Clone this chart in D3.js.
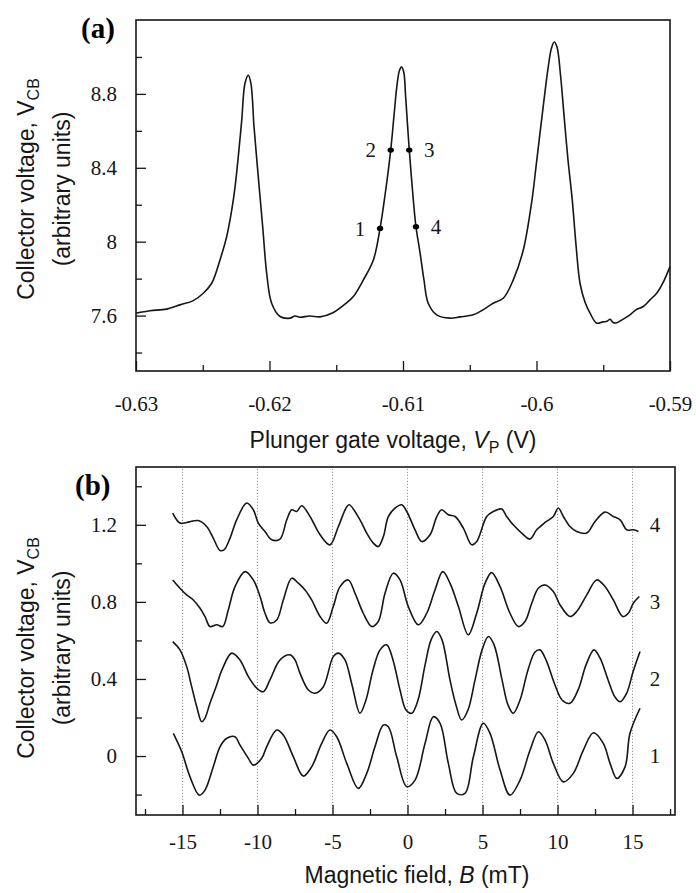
<!DOCTYPE html>
<html>
<head>
<meta charset="utf-8">
<script src="https://cdn.jsdelivr.net/npm/d3@7"></script>
<style>
  body { margin: 0; background: #fff; }
  svg { display: block; }
</style>
</head>
<body>
<svg id="fig" width="696" height="893"></svg>
<script>
// ---------- Panel (a): collector voltage vs plunger gate voltage ----------
const gateVoltage = [-0.63000,-0.62895,-0.62770,-0.62670,-0.62571,-0.62496,-0.62433,-0.62371,-0.62321,-0.62283,
  -0.62258,-0.62234,-0.62208,-0.62184,-0.62159,-0.62139,-0.62116,-0.62084,-0.62051,-0.62021,
  -0.61984,-0.61921,-0.61847,-0.61809,-0.61772,-0.61697,-0.61622,-0.61525,-0.61422,-0.61372,
  -0.61297,-0.61222,-0.61172,-0.61135,-0.61092,-0.61067,-0.61045,-0.61026,-0.61010,-0.60994,
  -0.60981,-0.60967,-0.60953,-0.60929,-0.60903,-0.60873,-0.60843,-0.60811,-0.60748,-0.60648,
  -0.60573,-0.60474,-0.60401,-0.60325,-0.60249,-0.60174,-0.60099,-0.60034,-0.60004,-0.59974,
  -0.59944,-0.59912,-0.59888,-0.59867,-0.59846,-0.59820,-0.59794,-0.59764,-0.59732,-0.59704,
  -0.59674,-0.59637,-0.59599,-0.59549,-0.59502,-0.59472,-0.59449,-0.59427,-0.59399,-0.59360,
  -0.59300,-0.59255,-0.59200,-0.59150,-0.59100,-0.59053,-0.59000];
const collectorA = [7.613,7.626,7.635,7.658,7.681,7.721,7.775,7.901,8.027,8.171,
  8.297,8.459,8.658,8.856,8.901,8.856,8.622,8.351,8.081,7.829,
  7.667,7.595,7.586,7.598,7.591,7.598,7.593,7.615,7.669,7.703,
  7.793,7.901,8.072,8.250,8.496,8.685,8.847,8.928,8.946,8.917,
  8.793,8.642,8.496,8.280,8.081,7.944,7.793,7.667,7.604,7.586,
  7.593,7.604,7.631,7.667,7.694,7.793,7.955,8.225,8.404,8.586,
  8.766,8.946,9.047,9.081,9.052,8.901,8.685,8.442,8.225,7.982,
  7.775,7.674,7.613,7.559,7.566,7.569,7.580,7.563,7.561,7.577,
  7.604,7.631,7.649,7.685,7.721,7.777,7.865];

// operating points 1-4 on the middle peak
const pointLabels = ["1", "2", "3", "4"];
const pointGate = [-0.61172, -0.61092, -0.60953, -0.60903];
const pointCollector = [8.072, 8.496, 8.496, 8.081];

const gateTicks = [-0.63, -0.62, -0.61, -0.60, -0.59];
const gateTickLabels = ["-0.63", "-0.62", "-0.61", "-0.6", "-0.59"];
const gateMinorTicks = [-0.625, -0.615, -0.605, -0.595];
const collectorTicksA = [7.6, 8.0, 8.4, 8.8];
const collectorTickLabelsA = ["7.6", "8", "8.4", "8.8"];
const collectorMinorA = [7.4, 7.8, 8.2, 8.6, 9.0];

// ---------- Panel (b): magnetoresistance traces at points 1-4 ----------
const traceNames = ["1", "2", "3", "4"];
const traceOffsets = [0, 0.4, 0.8, 1.2];

const field1 = [-15.61,-15.05,-14.50,-13.88,-13.50,-12.95,-12.50,-12.05,-11.50,-11.17,-10.61,-10.28,-9.72,-9.39,
  -8.72,-8.28,-7.61,-6.95,-6.39,-5.72,-5.17,-4.72,-4.05,-3.28,-2.72,-2.17,-1.61,-1.28,-0.72,-0.05,
  0.50,1.17,1.72,2.17,2.72,3.28,3.83,4.39,5.05,5.50,6.17,6.83,7.50,8.17,8.72,9.17,9.72,10.39,11.05,
  11.72,12.39,13.05,13.50,13.95,14.50,14.83,15.50];
const trace1 = [0.118,0.022,-0.108,-0.203,-0.177,-0.056,0.048,0.092,0.100,0.057,-0.012,-0.047,-0.012,0.048,
  0.135,0.109,-0.004,-0.104,-0.056,0.066,0.135,0.100,-0.038,-0.168,-0.090,0.048,0.161,0.152,-0.004,-0.159,
  -0.125,0.066,0.204,0.170,-0.038,-0.194,-0.194,-0.004,0.170,0.118,-0.073,-0.203,-0.125,0.031,0.126,0.083,
  -0.038,-0.134,-0.090,0.031,0.121,0.066,-0.038,-0.116,-0.056,0.118,0.248];

const field2 = [-15.65,-15.17,-14.72,-14.39,-14.05,-13.72,-13.50,-13.17,-12.72,-12.37,-11.72,-11.17,-10.61,-10.05,
  -9.61,-9.17,-8.50,-7.83,-7.50,-7.17,-6.61,-6.17,-5.61,-4.95,-4.61,-4.17,-3.70,-3.17,-2.77,-2.30,
  -1.83,-1.39,-0.97,-0.50,-0.10,0.28,0.70,1.17,1.57,1.95,2.30,2.83,3.23,3.61,4.03,4.50,4.97,5.39,5.77,
  6.30,6.70,7.05,7.50,8.03,8.50,8.83,9.23,9.83,10.30,10.83,11.37,11.90,12.43,12.83,13.37,13.83,14.17,
  14.61,15.03,15.50];
const trace2 = [0.594,0.551,0.464,0.360,0.256,0.178,0.197,0.274,0.369,0.447,0.534,0.499,0.412,0.352,
  0.334,0.395,0.499,0.525,0.499,0.430,0.343,0.326,0.360,0.516,0.534,0.499,0.369,0.222,0.291,0.447,
  0.551,0.577,0.499,0.343,0.239,0.222,0.291,0.473,0.603,0.646,0.603,0.395,0.265,0.187,0.239,0.395,
  0.551,0.620,0.577,0.395,0.265,0.222,0.291,0.447,0.540,0.551,0.499,0.369,0.291,0.274,0.343,0.473,
  0.551,0.509,0.395,0.306,0.282,0.327,0.436,0.542];

const field3 = [-15.65,-15.17,-14.72,-14.28,-13.83,-13.50,-13.17,-12.72,-12.32,-11.95,-11.50,-10.83,-10.28,-9.83,
  -9.50,-9.17,-8.72,-8.28,-7.72,-7.28,-6.83,-6.39,-5.83,-5.39,-4.95,-4.50,-3.95,-3.50,-2.95,-2.39,
  -1.95,-1.50,-0.95,-0.50,0.05,0.72,1.28,1.83,2.35,2.83,3.39,4.05,4.61,5.17,5.61,6.17,6.83,7.39,7.83,
  8.28,8.72,9.17,9.72,10.17,10.83,11.28,11.95,12.61,13.17,13.72,14.35,14.72,15.05,15.45];
const trace3 = [0.914,0.871,0.836,0.810,0.767,0.724,0.672,0.681,0.672,0.758,0.879,0.957,0.914,0.828,
  0.741,0.692,0.706,0.810,0.923,0.897,0.862,0.810,0.724,0.689,0.776,0.879,0.914,0.845,0.741,0.672,
  0.698,0.845,0.949,0.914,0.776,0.681,0.741,0.862,0.957,0.897,0.776,0.629,0.741,0.897,0.952,0.879,
  0.741,0.672,0.698,0.793,0.871,0.888,0.854,0.784,0.724,0.750,0.836,0.914,0.879,0.810,0.724,0.741,
  0.793,0.828];

const field4 = [-15.65,-15.17,-14.72,-13.95,-13.39,-12.95,-12.50,-12.23,-11.83,-11.39,-10.72,-10.28,-9.95,-9.50,
  -9.05,-8.50,-8.05,-7.72,-7.39,-7.05,-6.50,-5.83,-5.17,-4.61,-4.05,-3.88,-3.17,-2.72,-2.28,-1.95,
  -1.61,-1.28,-0.83,-0.39,-0.05,0.50,0.95,1.50,1.95,2.28,2.72,3.17,3.72,4.28,4.61,5.28,5.72,6.28,6.61,
  7.05,7.61,8.17,8.61,9.17,9.72,10.05,10.39,10.83,11.28,11.95,12.50,13.17,13.72,14.17,14.61,15.05,15.39];
const trace4 = [1.261,1.209,1.212,1.222,1.191,1.131,1.067,1.070,1.131,1.226,1.313,1.278,1.209,1.165,
  1.122,1.126,1.226,1.278,1.269,1.299,1.243,1.148,1.096,1.191,1.294,1.304,1.226,1.157,1.105,1.087,
  1.139,1.243,1.287,1.304,1.269,1.174,1.113,1.148,1.243,1.278,1.252,1.243,1.183,1.096,1.113,1.243,
  1.269,1.282,1.243,1.200,1.157,1.126,1.174,1.212,1.243,1.287,1.243,1.191,1.165,1.157,1.217,1.266,
  1.243,1.226,1.174,1.174,1.165];

const fieldTicks = [-15, -10, -5, 0, 5, 10, 15];
const fieldTickLabels = ["-15", "-10", "-5", "0", "5", "10", "15"];
const fieldMinorTicks = [-17.5, -12.5, -7.5, -2.5, 2.5, 7.5, 12.5, 17.5];
const collectorTicksB = [0, 0.4, 0.8, 1.2];
const collectorTickLabelsB = ["0", "0.4", "0.8", "1.2"];
const collectorMinorB = [-0.2, 0.2, 0.6, 1.0, 1.4];

// ---------- drawing ----------
const SERIF = "'Liberation Serif', 'Times New Roman', serif";
const SANS = "'Liberation Sans', Arial, Helvetica, sans-serif";
const INK = "#161616";

const svg = d3.select("#fig");

const frameA = { left: 136, right: 670, top: 20, bottom: 371 };
const frameB = { left: 136, right: 675, top: 467, bottom: 815 };

const xA = d3.scaleLinear().domain([-0.63, -0.59]).range([frameA.left, frameA.right]);
const yA = d3.scaleLinear().domain([7.3, 9.2]).range([frameA.bottom, frameA.top]);
const xB = d3.scaleLinear().domain([-18.1, 17.83]).range([frameB.left, frameB.right]);
const yB = d3.scaleLinear().domain([-0.306, 1.5]).range([frameB.bottom, frameB.top]);

function styleAxis(g) {
  g.select(".domain").remove();
  g.selectAll(".tick line").attr("stroke", INK).attr("stroke-width", 1.3);
  g.selectAll(".tick text").attr("fill", INK).attr("font-family", SERIF).attr("font-size", 21);
}

function drawAxes(frame, x, y, xt, xtl, xm, yt, ytl, ym, xPad) {
  svg.append("g").attr("transform", `translate(0,${frame.bottom})`)
    .call(d3.axisBottom(x).tickValues(xt).tickSize(-10).tickPadding(xPad)
      .tickFormat((d, i) => xtl[i]))
    .call(styleAxis);
  svg.append("g").attr("transform", `translate(0,${frame.bottom})`)
    .call(d3.axisBottom(x).tickValues(xm).tickSize(-6).tickFormat(""))
    .call(styleAxis);
  svg.append("g").attr("transform", `translate(${frame.left},0)`)
    .call(d3.axisLeft(y).tickValues(yt).tickSize(-10).tickPadding(19)
      .tickFormat((d, i) => ytl[i]))
    .call(styleAxis);
  svg.append("g").attr("transform", `translate(${frame.left},0)`)
    .call(d3.axisLeft(y).tickValues(ym).tickSize(-6).tickFormat(""))
    .call(styleAxis);
  svg.append("rect")
    .attr("x", frame.left).attr("y", frame.top)
    .attr("width", frame.right - frame.left).attr("height", frame.bottom - frame.top)
    .attr("fill", "none").attr("stroke", INK).attr("stroke-width", 1.6);
}

function yTitle(cy) {
  const t1 = svg.append("text")
    .attr("transform", `translate(34,${cy}) rotate(-90)`)
    .attr("text-anchor", "middle").attr("font-family", SANS).attr("font-size", 23).attr("fill", INK);
  t1.append("tspan").text("Collector voltage, V");
  t1.append("tspan").attr("font-size", 16).attr("dy", 5).text("CB");
  svg.append("text")
    .attr("transform", `translate(70,${cy}) rotate(-90)`)
    .attr("text-anchor", "middle").attr("font-family", SANS).attr("font-size", 23).attr("fill", INK)
    .text("(arbitrary units)");
}

const lineGen = (x, y) => d3.line()
  .x(d => x(d[0])).y(d => y(d[1]))
  .curve(d3.curveCatmullRom.alpha(0.5));

// ----- panel (a)
drawAxes(frameA, xA, yA, gateTicks, gateTickLabels, gateMinorTicks,
  collectorTicksA, collectorTickLabelsA, collectorMinorA, 25);

svg.append("path")
  .datum(d3.zip(gateVoltage, collectorA))
  .attr("d", lineGen(xA, yA))
  .attr("fill", "none").attr("stroke", INK).attr("stroke-width", 1.6)
  .attr("stroke-linejoin", "round");

const pts = d3.zip(pointGate, pointCollector, pointLabels);
svg.append("g").selectAll("ellipse").data(pts).join("ellipse")
  .attr("cx", d => xA(d[0])).attr("cy", d => yA(d[1]))
  .attr("rx", 3.2).attr("ry", 2.6).attr("fill", "#000");
svg.append("g").selectAll("text").data(pts).join("text")
  .attr("x", (d, i) => xA(d[0]) + (i < 2 ? -20 : 20))
  .attr("y", d => yA(d[1]))
  .attr("dy", "0.34em").attr("text-anchor", "middle")
  .attr("font-family", SERIF).attr("font-size", 21).attr("fill", INK)
  .text(d => d[2]);

svg.append("text").attr("x", 81).attr("y", 38)
  .attr("font-family", SERIF).attr("font-weight", "bold").attr("font-size", 29).attr("fill", "#000")
  .text("(a)");

const xtA = svg.append("text").attr("x", 393).attr("y", 448)
  .attr("text-anchor", "middle").attr("font-family", SANS).attr("font-size", 23).attr("fill", INK);
xtA.append("tspan").text("Plunger gate voltage, ");
xtA.append("tspan").attr("font-style", "italic").text("V");
xtA.append("tspan").attr("font-size", 16).attr("dy", 5).text("P");
xtA.append("tspan").attr("dy", -5).text(" (V)");

yTitle(189);

// ----- panel (b)
svg.append("g").selectAll("line").data(fieldTicks).join("line")
  .attr("x1", d => xB(d)).attr("x2", d => xB(d))
  .attr("y1", frameB.bottom).attr("y2", frameB.top)
  .attr("stroke", "#8a8a8a").attr("stroke-width", 0.9).attr("stroke-dasharray", "1.2,1.8");

drawAxes(frameB, xB, yB, fieldTicks, fieldTickLabels, fieldMinorTicks,
  collectorTicksB, collectorTickLabelsB, collectorMinorB, 19);

const traces = [d3.zip(field1, trace1), d3.zip(field2, trace2), d3.zip(field3, trace3), d3.zip(field4, trace4)];
svg.append("g").selectAll("path").data(traces).join("path")
  .attr("d", lineGen(xB, yB))
  .attr("fill", "none").attr("stroke", INK).attr("stroke-width", 1.6)
  .attr("stroke-linejoin", "round");

svg.append("g").selectAll("text").data(traceNames).join("text")
  .attr("x", frameB.right - 20)
  .attr("y", (d, i) => yB(traceOffsets[i]))
  .attr("dy", "0.34em").attr("text-anchor", "middle")
  .attr("font-family", SERIF).attr("font-size", 21).attr("fill", INK)
  .text(d => d);

svg.append("text").attr("x", 75).attr("y", 495)
  .attr("font-family", SERIF).attr("font-weight", "bold").attr("font-size", 29).attr("fill", "#000")
  .text("(b)");

const xtB = svg.append("text").attr("x", 417).attr("y", 883)
  .attr("text-anchor", "middle").attr("font-family", SANS).attr("font-size", 23).attr("fill", INK);
xtB.append("tspan").text("Magnetic field, ");
xtB.append("tspan").attr("font-style", "italic").text("B");
xtB.append("tspan").text(" (mT)");

yTitle(648);
</script>
</body>
</html>
